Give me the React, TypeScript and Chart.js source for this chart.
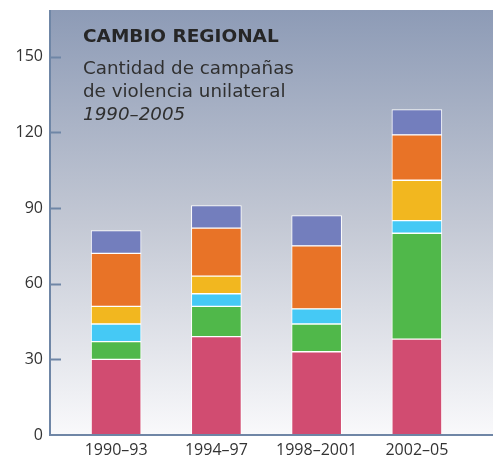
import React, { useEffect, useRef } from "react";
import { Chart, registerables } from "chart.js";

Chart.register(...registerables);

const categories = ["1990–93", "1994–97", "1998–2001", "2002–05"];
const seriesRed = [30, 39, 33, 38];
const seriesGreen = [7, 12, 11, 42];
const seriesCyan = [7, 5, 6, 5];
const seriesYellow = [7, 7, 0, 16];
const seriesOrange = [21, 19, 25, 18];
const seriesPurple = [9, 9, 12, 10];
const yTicks = [0, 30, 60, 90, 120, 150];
const titleText = "CAMBIO REGIONAL";
const subtitleLines = ["Cantidad de campañas", "de violencia unilateral"];
const subtitleItalic = "1990–2005";

const FONT = "'Open Sans', 'DejaVu Sans', sans-serif";
const TFONT = "'DejaVu Sans', sans-serif";

const decorPlugin = {
  id: "decor",
  beforeDraw(chart: any) {
    const { ctx, chartArea } = chart;
    const x0 = 50;
    const x1 = chart.width;
    const y0 = chartArea.top;
    const y1 = chartArea.bottom;
    const g = ctx.createLinearGradient(0, y0, 0, y1);
    g.addColorStop(0, "#8d9bb6");
    g.addColorStop(0.5, "#c3c8d4");
    g.addColorStop(1, "#f9f9fb");
    ctx.save();
    ctx.fillStyle = g;
    ctx.fillRect(x0, y0, x1 - x0, y1 - y0);
    ctx.restore();
  },
  afterDatasetsDraw(chart: any) {
    const { ctx, chartArea, scales } = chart;
    const x0 = 50;
    const yScale = scales.y;
    ctx.save();
    ctx.strokeStyle = "#6f86a6";
    ctx.lineWidth = 2;
    ctx.beginPath();
    ctx.moveTo(x0, chartArea.top);
    ctx.lineTo(x0, chartArea.bottom);
    ctx.stroke();
    ctx.beginPath();
    ctx.moveTo(x0 - 1, chartArea.bottom);
    ctx.lineTo(chart.width, chartArea.bottom);
    ctx.stroke();
    yTicks.forEach((v) => {
      if (v === 0) return;
      const py = Math.round(yScale.getPixelForValue(v)) + 0.5;
      ctx.beginPath();
      ctx.moveTo(x0, py);
      ctx.lineTo(x0 + 11, py);
      ctx.stroke();
    });
    ctx.fillStyle = "#262626";
    ctx.textAlign = "left";
    ctx.textBaseline = "alphabetic";
    ctx.font = `bold 18.5px ${TFONT}`;
    ctx.fillText(titleText, 83, 42);
    ctx.fillStyle = "#303030";
    ctx.font = `18.3px ${TFONT}`;
    ctx.fillText(subtitleLines[0], 83, 74);
    ctx.fillText(subtitleLines[1], 83, 97);
    ctx.font = `oblique 18.3px ${TFONT}`;
    ctx.fillText(subtitleItalic, 83, 120);
    ctx.restore();
  },
};

function mk(label: string, data: number[], color: string) {
  return {
    label,
    data,
    backgroundColor: color,
    borderColor: "#ffffff",
    borderWidth: 1,
    borderSkipped: false,
    barThickness: 50,
  };
}

export default function App() {
  const ref = useRef<HTMLCanvasElement | null>(null);
  useEffect(() => {
    document.body.style.margin = "0";
    const canvas = ref.current!;
    const chart = new Chart(canvas, {
      type: "bar",
      data: {
        labels: categories,
        datasets: [
          mk("Rojo", seriesRed, "#d14c71"),
          mk("Verde", seriesGreen, "#50b84a"),
          mk("Cian", seriesCyan, "#45c9f5"),
          mk("Amarillo", seriesYellow, "#f2b71f"),
          mk("Naranja", seriesOrange, "#e87327"),
          mk("Morado", seriesPurple, "#737ebd"),
        ],
      },
      options: {
        responsive: false,
        animation: false,
        layout: { padding: { top: 10, right: 26, left: 0, bottom: 0 } },
        plugins: {
          legend: { display: false },
          tooltip: { enabled: false },
          title: { display: false },
        },
        scales: {
          x: {
            stacked: true,
            grid: { display: false, drawTicks: false },
            border: { display: false },
            ticks: {
              color: "#333333",
              font: { family: FONT, size: 16 },
              padding: 6,
              maxRotation: 0,
            },
            afterFit: (s: any) => {
              s.height = 23;
              s.paddingLeft = 0;
              s.paddingRight = 0;
            },
          },
          y: {
            stacked: true,
            min: 0,
            max: 168.5,
            grid: { display: false, drawTicks: false },
            border: { display: false },
            afterBuildTicks: (s: any) => {
              s.ticks = yTicks.map((v) => ({ value: v }));
            },
            ticks: {
              color: "#333333",
              font: { family: FONT, size: 16 },
              padding: 23,
            },
            afterFit: (s: any) => {
              s.width = 66;
              s.paddingTop = 0;
              s.paddingBottom = 0;
            },
          },
        },
      },
      plugins: [decorPlugin],
    });
    return () => chart.destroy();
  }, []);
  return (
    <div style={{ width: 493, height: 458 }}>
      <canvas ref={ref} width={493} height={458} style={{ display: "block" }} />
    </div>
  );
}
